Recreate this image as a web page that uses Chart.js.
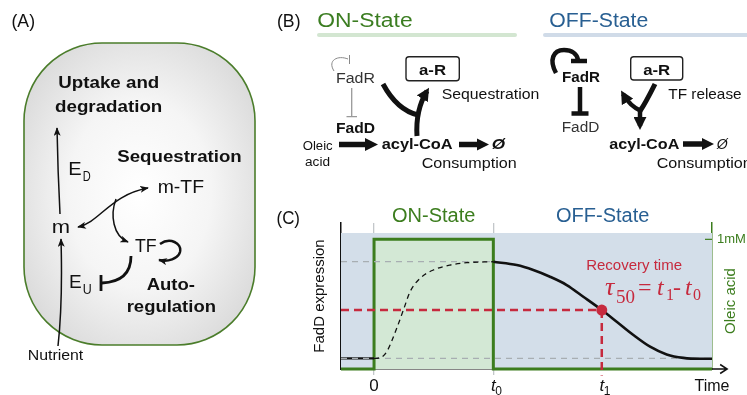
<!DOCTYPE html>
<html>
<head>
<meta charset="utf-8">
<script src="https://cdn.jsdelivr.net/npm/chart.js@4.4.1/dist/chart.umd.min.js"></script>
<style>
  html, body { margin:0; padding:0; background:#fff; }
  body { width:747px; height:395px; overflow:hidden; position:relative; font-family:"Liberation Sans", Arial, sans-serif; }
  #wrap { position:absolute; left:0; top:0; width:747px; height:395px; }
  svg { position:absolute; left:0; top:0; pointer-events:none; }
</style>
</head>
<body>
<div id="wrap"><canvas id="c" width="747" height="395"></canvas></div>

<svg width="747" height="395" font-family="'Liberation Sans', Arial, sans-serif" fill="#111">
  <defs>
    <radialGradient id="cell" cx="0.5" cy="0.5" r="0.62">
      <stop offset="0" stop-color="#ffffff"/>
      <stop offset="0.5" stop-color="#f5f5f5"/>
      <stop offset="1" stop-color="#d8d8d8"/>
    </radialGradient>
    <marker id="a1" viewBox="0 0 10 8" refX="9" refY="4" markerWidth="9" markerHeight="7" markerUnits="userSpaceOnUse" orient="auto-start-reverse">
      <path d="M0,0 L10,4 L0,8 L2.5,4 z" fill="#111"/>
    </marker>
    <marker id="a2" viewBox="0 0 10 10" refX="7" refY="5" markerWidth="13" markerHeight="13" markerUnits="userSpaceOnUse" orient="auto">
      <path d="M0,0 L10,5 L0,10 z" fill="#111"/>
    </marker>
  </defs>

  <!-- Panel A -->
  <text x="11.5" y="27" font-size="18" textLength="23.5" lengthAdjust="spacingAndGlyphs">(A)</text>
  <rect x="24" y="43" width="231" height="302" rx="78" ry="78" fill="url(#cell)" stroke="#4b7d2b" stroke-width="1.6"/>
  <text x="58.3" y="87.5" font-size="16" font-weight="bold" textLength="101" lengthAdjust="spacingAndGlyphs">Uptake and</text>
  <text x="55" y="111.7" font-size="16" font-weight="bold" textLength="107.3" lengthAdjust="spacingAndGlyphs">degradation</text>
  <text x="117.3" y="162.3" font-size="16" font-weight="bold" textLength="124.4" lengthAdjust="spacingAndGlyphs">Sequestration</text>
  <text x="68.3" y="175" font-size="19" textLength="13.4" lengthAdjust="spacingAndGlyphs">E</text>
  <text x="82.7" y="180.5" font-size="14" textLength="8" lengthAdjust="spacingAndGlyphs">D</text>
  <text x="157.7" y="193.3" font-size="19" textLength="46.3" lengthAdjust="spacingAndGlyphs">m-TF</text>
  <text x="51.7" y="233.3" font-size="19" textLength="18.3" lengthAdjust="spacingAndGlyphs">m</text>
  <text x="135" y="251.7" font-size="19" textLength="21.7" lengthAdjust="spacingAndGlyphs">TF</text>
  <text x="69" y="288.3" font-size="19" textLength="12.7" lengthAdjust="spacingAndGlyphs">E</text>
  <text x="82.7" y="293.5" font-size="14" textLength="9" lengthAdjust="spacingAndGlyphs">U</text>
  <text x="146.7" y="289.5" font-size="16" font-weight="bold" textLength="48.3" lengthAdjust="spacingAndGlyphs">Auto-</text>
  <text x="126.7" y="311.7" font-size="16" font-weight="bold" textLength="89.3" lengthAdjust="spacingAndGlyphs">regulation</text>
  <text x="27.7" y="360" font-size="14" textLength="55.6" lengthAdjust="spacingAndGlyphs">Nutrient</text>

  <g fill="none" stroke="#111">
    <path d="M60 214 C58.5 185 57.5 155 57 128" stroke-width="1.5" marker-end="url(#a1)"/>
    <path d="M58 346 C62 310 62 275 61 239" stroke-width="1.5" marker-end="url(#a1)"/>
    <path d="M78 227 C100 222 110 195 148 188" stroke-width="1.5" marker-start="url(#a1)" marker-end="url(#a1)"/>
    <path d="M116 199 C110 215 113 236 128 242" stroke-width="1.5" marker-end="url(#a1)"/>
    <path d="M131 256 C131 272 122 282 102 283" stroke-width="2.8"/>
    <path d="M101 275 L101 291" stroke-width="2.8"/>
    <path d="M160 244 C170 237 182 243 180 252 C178 259 168 262 159 260" stroke-width="2.5" marker-end="url(#a1)"/>
  </g>

  <!-- Panel B -->
  <text x="277" y="27" font-size="18" textLength="23.5" lengthAdjust="spacingAndGlyphs">(B)</text>
  <text x="317.3" y="26.7" font-size="20" fill="#3b7d21" textLength="95.3" lengthAdjust="spacingAndGlyphs">ON-State</text>
  <line x1="319" y1="35" x2="515" y2="35" stroke="#d3e6d1" stroke-width="4" stroke-linecap="round"/>
  <text x="549.3" y="26.7" font-size="20" fill="#285f92" textLength="99" lengthAdjust="spacingAndGlyphs">OFF-State</text>
  <line x1="545" y1="35" x2="760" y2="35" stroke="#d0dbe8" stroke-width="4" stroke-linecap="round"/>

  <!-- ON state -->
  <text x="336" y="82.7" font-size="15.5" fill="#333" textLength="39" lengthAdjust="spacingAndGlyphs">FadR</text>
  <path d="M334 71 C327 60 338 55 348 59" fill="none" stroke="#888" stroke-width="1"/>
  <path d="M349.5 55 L349.5 64" fill="none" stroke="#888" stroke-width="1"/>
  <path d="M351.7 88 L351.7 116.7 M346.5 116.7 L357 116.7" fill="none" stroke="#999" stroke-width="1.3"/>
  <text x="336" y="133.3" font-size="15.5" font-weight="bold" textLength="39" lengthAdjust="spacingAndGlyphs">FadD</text>
  <text x="302.7" y="150" font-size="12.5" textLength="30" lengthAdjust="spacingAndGlyphs">Oleic</text>
  <text x="305" y="165.5" font-size="12.5" textLength="25" lengthAdjust="spacingAndGlyphs">acid</text>
  <line x1="339" y1="144.5" x2="368" y2="144.5" stroke="#111" stroke-width="5.5"/>
  <polygon points="365,138 378,144.5 365,151" fill="#111"/>
  <text x="381.7" y="148.5" font-size="15.5" font-weight="bold" textLength="71" lengthAdjust="spacingAndGlyphs">acyl-CoA</text>
  <line x1="459" y1="144.5" x2="479" y2="144.5" stroke="#111" stroke-width="5.5"/>
  <polygon points="477,138.5 489,144.5 477,150.5" fill="#111"/>
  <text x="491.7" y="148.5" font-size="15.5" font-weight="bold" font-style="italic" textLength="13.3" lengthAdjust="spacingAndGlyphs">Ø</text>
  <text x="421.7" y="168" font-size="15.5" textLength="95" lengthAdjust="spacingAndGlyphs">Consumption</text>
  <rect x="406" y="56.7" width="53.3" height="24" rx="3" fill="#fff" stroke="#222" stroke-width="1.4"/>
  <text x="419" y="74.5" font-size="15" font-weight="bold" textLength="27" lengthAdjust="spacingAndGlyphs">a-R</text>
  <text x="441.7" y="99.3" font-size="15" textLength="97.6" lengthAdjust="spacingAndGlyphs">Sequestration</text>
  <path d="M383 84 Q397 110 418 115" fill="none" stroke="#111" stroke-width="5"/>
  <path d="M417 136 C416 120 419 104 427 91" fill="none" stroke="#111" stroke-width="5" marker-end="url(#a2)"/>

  <!-- OFF state -->
  <path d="M556 73 C549 60 553 50 564 50 C572 50 577 54 578 60" fill="none" stroke="#111" stroke-width="4.5"/>
  <path d="M571 61 L587 61" fill="none" stroke="#111" stroke-width="4.5"/>
  <text x="562" y="82" font-size="15.5" font-weight="bold" textLength="38" lengthAdjust="spacingAndGlyphs">FadR</text>
  <path d="M580 87 L580 113 M571.5 113.5 L588.5 113.5" fill="none" stroke="#111" stroke-width="4.5"/>
  <text x="561.7" y="132.3" font-size="15.5" fill="#333" textLength="37.6" lengthAdjust="spacingAndGlyphs">FadD</text>
  <rect x="630.7" y="56.7" width="52" height="23.3" rx="3" fill="#fff" stroke="#222" stroke-width="1.4"/>
  <text x="643.2" y="74.5" font-size="15" font-weight="bold" textLength="27" lengthAdjust="spacingAndGlyphs">a-R</text>
  <text x="668.3" y="99.3" font-size="15" textLength="73.3" lengthAdjust="spacingAndGlyphs">TF release</text>
  <path d="M655 84 C649 96 645 104 640 111" fill="none" stroke="#111" stroke-width="5"/>
  <path d="M641 111 C632 107 627 101 623 94" fill="none" stroke="#111" stroke-width="4.5" marker-end="url(#a2)"/>
  <path d="M640 109 C640 116 640 121 640 126" fill="none" stroke="#111" stroke-width="4.5" marker-end="url(#a2)"/>
  <text x="609.3" y="148.5" font-size="15.5" font-weight="bold" textLength="70" lengthAdjust="spacingAndGlyphs">acyl-CoA</text>
  <line x1="683" y1="144" x2="704" y2="144" stroke="#111" stroke-width="5.5"/>
  <polygon points="702,138 714,144 702,150" fill="#111"/>
  <text x="716.7" y="148.5" font-size="15.5" font-style="italic" textLength="11" lengthAdjust="spacingAndGlyphs">Ø</text>
  <text x="656.7" y="168" font-size="15.5" textLength="95" lengthAdjust="spacingAndGlyphs">Consumption</text>

  <!-- Panel C label -->
  <text x="276.5" y="224" font-size="18" textLength="23.5" lengthAdjust="spacingAndGlyphs">(C)</text>
</svg>

<script>
// ---------- data ----------
const X_MIN = -0.277, X_MAX = 2.833, X_ARROW = 2.96;
const T0 = 1, T1 = 1.909;
const EXPR_LOW = 0.073, EXPR_HIGH = 0.735, EXPR_HALF = 0.404;
const BAND_TOP = 0.932;
const OLEIC_MAX = 1.126;

const riseX = [0, 0.05, 0.106, 0.19, 0.246, 0.302, 0.386, 0.497, 0.637, 0.777, 1.0];
const riseY = [0.073, 0.077, 0.118, 0.279, 0.404, 0.529, 0.621, 0.678, 0.712, 0.728, 0.735];

const decayX = [1.0, 1.196, 1.335, 1.475, 1.615, 1.754, 1.909, 2.034, 2.174, 2.314, 2.453, 2.593, 2.733, 2.833];
const decayY = [0.735, 0.712, 0.678, 0.632, 0.575, 0.495, 0.404, 0.324, 0.233, 0.153, 0.100, 0.076, 0.070, 0.070];

const oleicX = [X_MIN, 0, 0, T0, T0, X_MAX];
const oleicY = [0, 0, 1, 1, 0, 0];
const oleicTicks = [1];
const oleicTickLabels = ['1mM'];

const timeTicks = [0, T0, T1];
const timeTickLabels = [['0', ''], ['t', '0'], ['t', '1']];
const stateLabels = ['ON-State', 'OFF-State'];

// ---------- styles ----------
const GREEN = '#3c7d1e', BLUE_T = '#285f92', BG_BLUE = '#d3dee9', GREEN_FILL = '#d3e8d5';
const RED = '#c62a3e', GRAY = '#a8aeb2', SANS = '"Liberation Sans", Arial, sans-serif', SERIF = '"Liberation Serif", "Times New Roman", serif';

const pts = (xs, ys) => xs.map((x, i) => ({ x, y: ys[i] }));

const annot = {
  id: 'annot',
  afterDraw(chart) {
    const { ctx, chartArea: a, scales: { x, y, y2 } } = chart;
    ctx.save();
    // x axis arrow
    const yb = a.bottom, xa = x.getPixelForValue(X_ARROW);
    ctx.strokeStyle = '#111'; ctx.lineWidth = 1.5;
    ctx.beginPath();
    ctx.moveTo(a.right, yb); ctx.lineTo(xa, yb);
    ctx.moveTo(xa - 7, yb - 4.5); ctx.lineTo(xa, yb); ctx.lineTo(xa - 7, yb + 4.5);
    ctx.stroke();
    // inward tick on oleic axis
    ctx.strokeStyle = GREEN; ctx.lineWidth = 1.2;
    oleicTicks.forEach(v => {
      const py = y2.getPixelForValue(v);
      ctx.beginPath(); ctx.moveTo(a.right - 7, py); ctx.lineTo(a.right, py); ctx.stroke();
    });
    // time tick labels
    ctx.fillStyle = '#111'; ctx.textBaseline = 'alphabetic';
    timeTicks.forEach((v, i) => {
      const px = x.getPixelForValue(v);
      const [main, sub] = timeTickLabels[i];
      ctx.font = (sub ? 'italic ' : '') + '17px ' + SANS;
      ctx.textAlign = 'center';
      ctx.fillText(main, px, 391);
      if (sub) {
        const w = ctx.measureText(main).width;
        ctx.font = '12px ' + SANS; ctx.textAlign = 'left';
        ctx.fillText(sub, px + w / 2 - 0.5, 394.5);
      }
    });
    ctx.font = '16px ' + SANS; ctx.textAlign = 'center';
    ctx.fillText('Time', x.getPixelForValue(X_MAX), 391);
    // state titles
    ctx.font = '20px ' + SANS;
    ctx.fillStyle = GREEN;
    ctx.fillText(stateLabels[0], x.getPixelForValue((0 + T0) / 2), 221.5);
    ctx.fillStyle = BLUE_T;
    ctx.fillText(stateLabels[1], x.getPixelForValue((T0 + X_MAX) / 2), 221.5);
    // recovery annotation
    ctx.fillStyle = RED;
    ctx.font = '15px ' + SANS;
    ctx.fillText('Recovery time', x.getPixelForValue(2.18), y.getPixelForValue(0.678));
    ctx.textAlign = 'left';
    const fx = x.getPixelForValue(1.936), fy = y.getPixelForValue(0.507);
    const parts = [
      ['τ', 'italic 26px ' + SERIF, 0, 0],
      ['50', '19px ' + SERIF, 11, 8],
      ['=', '24px ' + SERIF, 33, 0],
      ['t', 'italic 24px ' + SERIF, 52, 0],
      ['1', '16px ' + SERIF, 61, 5],
      ['-', '24px ' + SERIF, 68, 0],
      ['t', 'italic 24px ' + SERIF, 80, 0],
      ['0', '16px ' + SERIF, 88, 5]
    ];
    parts.forEach(([t, f, dx, dy]) => { ctx.font = f; ctx.fillText(t, fx + dx, fy + dy); });
    // oleic acid axis title
    ctx.fillStyle = GREEN; ctx.font = '15px ' + SANS;
    ctx.translate(731, (a.top + a.bottom) / 2 + 5);
    ctx.rotate(-Math.PI / 2);
    ctx.textAlign = 'center'; ctx.textBaseline = 'middle';
    ctx.fillText('Oleic acid', 0, 0);
    ctx.restore();
  }
};

new Chart(document.getElementById('c'), {
  type: 'line',
  data: {
    datasets: [
      { label: 'band', data: pts([X_MIN, X_MAX], [BAND_TOP, BAND_TOP]), fill: 'origin', backgroundColor: BG_BLUE, borderWidth: 0, order: 10 },
      { label: 'oleic', data: pts(oleicX, oleicY), yAxisID: 'y2', fill: 'origin', backgroundColor: GREEN_FILL, borderColor: GREEN, borderWidth: 3, borderJoinStyle: 'miter', clip: false, order: 9 },
      { label: 'base', data: pts([X_MIN, 0], [EXPR_LOW, EXPR_LOW]), borderColor: '#111', borderWidth: 2.2, order: 7 },
      { label: 'hiRef', data: pts([X_MIN, T0], [EXPR_HIGH, EXPR_HIGH]), borderColor: GRAY, borderWidth: 1.3, borderDash: [6, 5], order: 6 },
      { label: 'loRef', data: pts([X_MIN, X_MAX], [EXPR_LOW, EXPR_LOW]), borderColor: GRAY, borderWidth: 1.3, borderDash: [6, 5], order: 6 },
      { label: 'rise', data: pts(riseX, riseY), borderColor: '#111', borderWidth: 1.3, borderDash: [5, 4], cubicInterpolationMode: 'monotone', order: 4 },
      { label: 'decay', data: pts(decayX, decayY), borderColor: '#111', borderWidth: 2.6, cubicInterpolationMode: 'monotone', order: 4 },
      { label: 'halfH', data: pts([X_MIN, T1], [EXPR_HALF, EXPR_HALF]), borderColor: RED, borderWidth: 2.5, borderDash: [8, 5], order: 2 },
      { label: 'halfV', data: pts([T1, T1], [EXPR_HALF, -0.045]), borderColor: RED, borderWidth: 2.5, borderDash: [8, 5], clip: false, order: 2 },
      { label: 'tau50', data: pts([T1], [EXPR_HALF]), showLine: false, pointRadius: 5.5, pointBackgroundColor: RED, pointBorderWidth: 0, order: 1 }
    ]
  },
  options: {
    responsive: false,
    animation: false,
    devicePixelRatio: 1,
    layout: { padding: { left: 300, top: 223, right: 0, bottom: 0 } },
    elements: { point: { radius: 0, hoverRadius: 0 }, line: { tension: 0 } },
    plugins: { legend: { display: false }, tooltip: { enabled: false } },
    events: [],
    scales: {
      x: {
        type: 'linear', min: X_MIN, max: X_MAX,
        afterFit: s => { s.height = 26; },
        afterBuildTicks: s => { s.ticks = timeTicks.map(v => ({ value: v })); },
        ticks: { display: false },
        grid: {
          display: true, drawOnChartArea: true, drawTicks: true, tickLength: 6, lineWidth: 1.3,
          color: c => (c.tick && c.tick.value === T1) ? 'rgba(0,0,0,0)' : '#c3c7ca'
        },
        border: { display: true, color: '#111', width: 1.5 }
      },
      y: {
        type: 'linear', position: 'left', min: 0, max: 1,
        afterFit: s => { s.width = 41; },
        ticks: { display: false },
        grid: { display: false, drawTicks: false },
        border: { display: true, color: '#111', width: 1.5 },
        title: { display: true, text: 'FadD expression', color: '#111', font: { size: 15, family: SANS }, padding: { top: 11, bottom: 0 } }
      },
      y2: {
        type: 'linear', position: 'right', min: 0, max: OLEIC_MAX,
        afterFit: s => { s.width = 35; },
        afterBuildTicks: s => { s.ticks = oleicTicks.map(v => ({ value: v })); },
        ticks: { display: true, color: GREEN, font: { size: 13, family: SANS }, padding: 5, callback: (v, i) => oleicTickLabels[i] },
        grid: { display: false, drawTicks: false },
        border: { display: true, color: GREEN, width: 1.5 }
      }
    }
  },
  plugins: [annot]
});
</script>
</body>
</html>
